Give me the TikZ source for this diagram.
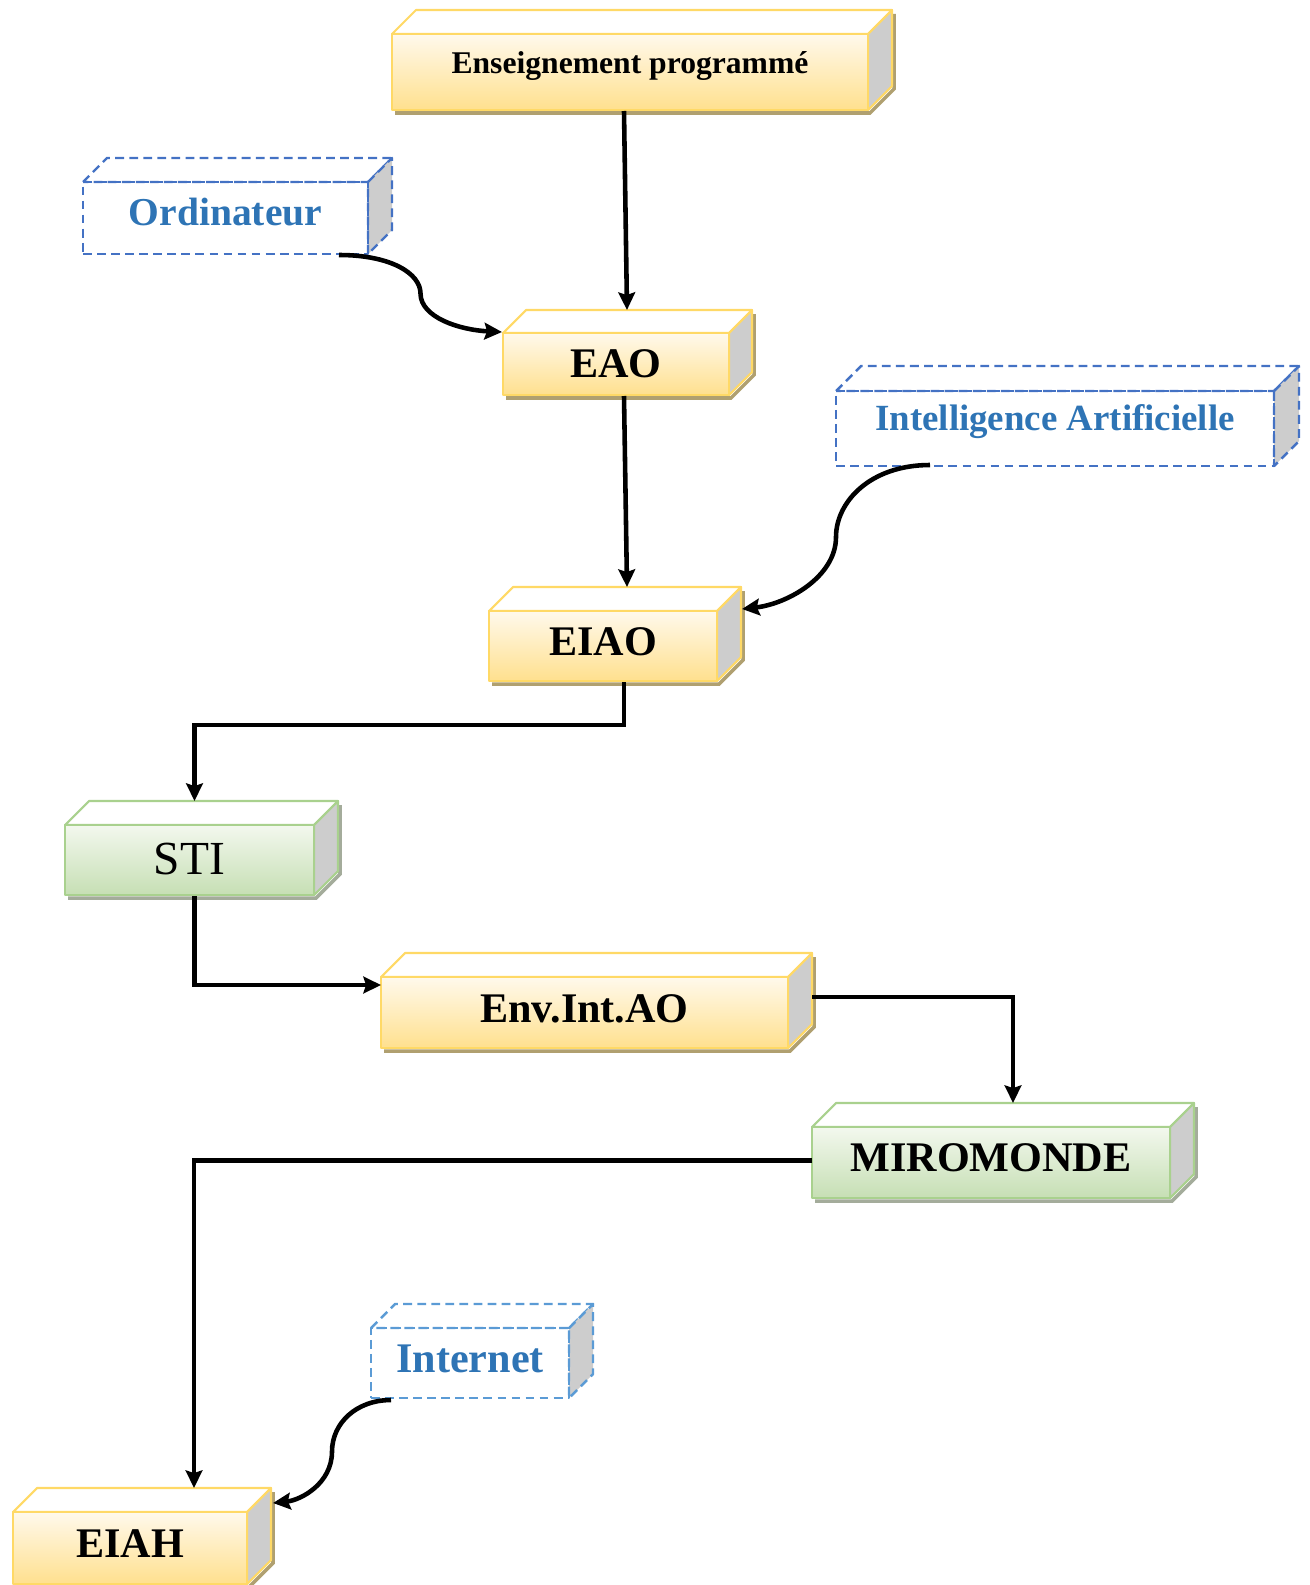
\documentclass[tikz,border=0pt]{standalone}
\usepackage{fontspec}
\setmainfont{Liberation Serif}
\usetikzlibrary{arrows.meta,calc}

\definecolor{yelline}{HTML}{FFD966}
\definecolor{yeltop}{HTML}{FFF9EC}
\definecolor{yelbot}{HTML}{FFE08E}
\definecolor{yelshadow}{HTML}{B0A070}
\definecolor{grnline}{HTML}{A9D18E}
\definecolor{grntop}{HTML}{F3F8EE}
\definecolor{grnbot}{HTML}{C6DFB4}
\definecolor{grnshadow}{HTML}{A4AC9B}
\definecolor{sidegray}{HTML}{CDCDCD}
\definecolor{bluline}{HTML}{4472C4}
\definecolor{bluline2}{HTML}{5B9BD5}
\definecolor{blutext}{HTML}{2E74B5}

\tikzset{
  face/.style={line width=1.2pt, line join=round},
  dface/.style={line width=1.4pt, line join=round, dash pattern=on 5pt off 3pt},
  yel front/.style={face, draw=yelline, top color=yeltop, bottom color=yelbot, inner sep=0pt, outer sep=0pt},
  yel top/.style={face, draw=yelline, fill=white},
  yel side/.style={face, draw=yelline, fill=sidegray},
  yel shadow/.style={draw=yelshadow, line width=2pt},
  yel text/.style={font=\fontsize{24}{28}\selectfont\bfseries, text=black, inner sep=0pt},
  grn front/.style={face, draw=grnline, top color=grntop, bottom color=grnbot, inner sep=0pt, outer sep=0pt},
  grn top/.style={face, draw=grnline, fill=white},
  grn side/.style={face, draw=grnline, fill=sidegray},
  grn shadow/.style={draw=grnshadow, line width=2pt},
  grn text/.style={font=\fontsize{24}{28}\selectfont\bfseries, text=black, inner sep=0pt},
  blu front/.style={dface, draw=bluline, inner sep=0pt, outer sep=0pt},
  blu top/.style={dface, draw=bluline},
  blu side/.style={dface, draw=bluline, fill=sidegray},
  blu shadow/.style={draw=none},
  blu text/.style={font=\fontsize{24}{28}\selectfont\bfseries, text=blutext, inner sep=0pt},
  lbl front/.style={dface, draw=bluline2, inner sep=0pt, outer sep=0pt},
  lbl top/.style={dface, draw=bluline2},
  lbl side/.style={dface, draw=bluline2, fill=sidegray},
  lbl shadow/.style={draw=none},
  lbl text/.style={font=\fontsize{24}{28}\selectfont\bfseries, text=blutext, inner sep=0pt},
  conn/.style={draw=black, line width=2.6pt, -{Stealth[length=10pt, width=9.5pt, inset=1.5pt]}},
}

% 3D box: #1 look, #2 name, #3,#4 front top-left, #5,#6 front bottom-right,
% #7 depth, #8 text, #9 baseline below the centre
\newcommand\cubebox[9]{%
  \path[#1 shadow] (#3+3,#6+3) -- (#5+2,#6+3) -- (#5+#7+2,#6-#7+3) -- (#5+#7+2,#4-#7+4);
  \path[#1 top] (#3,#4) -- (#3+#7,#4-#7) -- (#5+#7,#4-#7) -- (#5,#4) -- cycle;
  \path[#1 side] (#5,#4) -- (#5+#7,#4-#7) -- (#5+#7,#6-#7) -- (#5,#6) -- cycle;
  \node[#1 front, anchor=north west, minimum width={(#5-#3)*0.02cm},
        minimum height={(#6-#4)*0.02cm}] (#2) at (#3,#4) {};
  \node[#1 text, anchor=base] at ($(#2.center)+(0,#9)$) {#8};
}

\begin{document}
\begin{tikzpicture}[x=0.02cm, y=-0.02cm]
\useasboundingbox (0,0) rectangle (1309,1585);

\cubebox{yel}{ens}{392}{34}{868}{110}{24}{\fontsize{18}{22}\selectfont Enseignement programmé}{2}
\cubebox{blu}{ord}{83}{182}{368}{254}{24}{\fontsize{22.5}{26}\selectfont Ordinateur}{7}
\cubebox{yel}{eao}{503}{333}{729}{395}{23}{EAO}{13}
\cubebox{blu}{ia}{836}{391}{1274}{466}{25}{\fontsize{21}{25}\selectfont Intelligence Artificielle}{2}
\cubebox{yel}{eiao}{489}{611}{717}{681}{24}{EIAO}{9}
\cubebox{grn}{sti}{65}{825}{314}{895}{24}{\mdseries\fontsize{27}{30}\selectfont STI}{14}
\cubebox{yel}{env}{381}{977}{788}{1048}{24}{Env.Int.AO}{9.5}
\cubebox{grn}{miro}{812}{1127}{1170}{1198}{24}{MIROMONDE}{9}
\cubebox{lbl}{inet}{371}{1328}{569}{1398}{24}{Internet}{9}
\cubebox{yel}{eiah}{13}{1512}{247}{1584}{24}{EIAH}{9}

% straight links
\draw[conn] ($(ens.south)+(-6,1)$) -- ($(eao.north)+(11,-23)$);
\draw[conn] ($(eao.south)+(8,1)$) -- ($(eiao.north)+(24,-24)$);
\draw[conn] ($(eiao.south)+(21,1)$) -- ++(0,43) -| ($(sti.north)+(5,-24)$);
\draw[conn] ($(sti.south)+(5,1)$) |- ($(env.north west)+(0,8)$);
\draw[conn] ($(env.north east)+(24,20)$) -| ($(miro.north)+(22,-24)$);
\draw[conn] ($(miro.west)+(0,-2)$) -| ($(eiah.north)+(64,-24)$);

% curved links from the dashed boxes
\coordinate (ordS) at ($(ord.south east)+(-29,1)$);
\coordinate (ordE) at ($(eao.north west)+(-1,-1)$);
\draw[conn] (ordS) .. controls +(52,0) and +(0,-20) .. ($(ordS)!0.5!(ordE)$)
  .. controls +(0,24) and +(-42,-2) .. (ordE);

\coordinate (iaS) at ($(ia.south west)+(94,-1)$);
\coordinate (iaE) at ($(eiao.north east)+(25,-2)$);
\draw[conn] (iaS) .. controls +(-60,0) and +(0,-35) .. ($(iaS)!0.5!(iaE)$)
  .. controls +(0,40) and +(45,-5) .. (iaE);

\coordinate (inS) at ($(inet.south west)+(20,2)$);
\coordinate (inE) at ($(eiah.north east)+(26,-9)$);
\draw[conn] (inS) .. controls +(-35,0) and +(0,-28) .. ($(inS)!0.5!(inE)$)
  .. controls +(0,32) and +(28,-3) .. (inE);
\end{tikzpicture}
\end{document}
